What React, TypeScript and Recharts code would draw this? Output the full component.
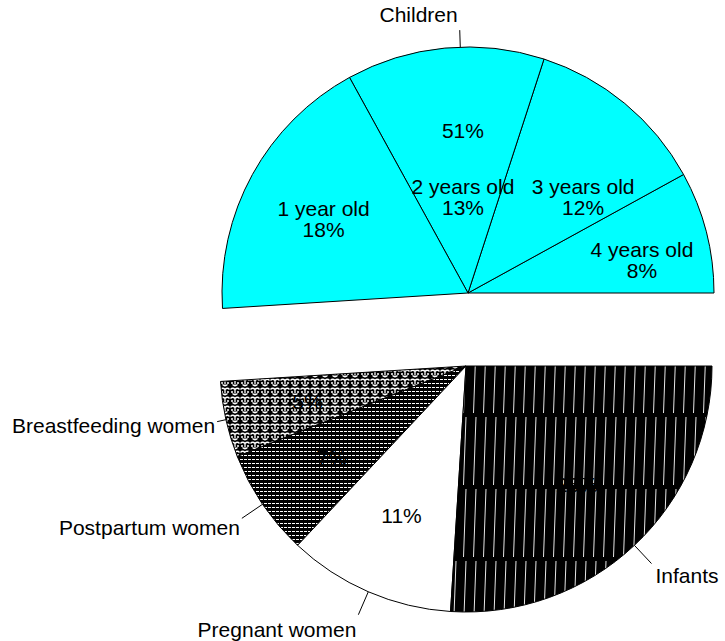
import React from 'react';
import { PieChart, Pie, Cell } from 'recharts';

// shares of participants, percent
const groupNames = ['Children', 'Breastfeeding women', 'Postpartum women', 'Pregnant women', 'Infants'];
const groupShares = [51, 5, 7, 11, 26];
const childAges = ['4 years old', '3 years old', '2 years old', '1 year old'];
const childShares = [8, 12, 13, 18];

const total = groupShares.reduce((a, b) => a + b, 0);
const childrenAngle = (360 * groupShares[0]) / total;

const childGroup = [{ name: groupNames[0], value: groupShares[0] }];
const childData = childAges.map((name, i) => ({ name, value: childShares[i] }));
const otherData = groupNames.slice(1).map((name, i) => ({ name, value: groupShares[i + 1] }));

const W = 725;
const H = 641;
const R = 246;
const FONT = "'Liberation Sans', Arial, Helvetica, sans-serif";
const FS = 21;
const RADIAN = Math.PI / 180;

const fills: Record<string, string> = {
  'Breastfeeding women': 'url(#breastfeeding)',
  'Postpartum women': 'url(#postpartum)',
  'Pregnant women': '#ffffff',
  Infants: 'url(#infants)',
};

// where the inner labels of the age slices sit (fraction of radius, angle nudge)
const innerPos: Record<string, { r: number; da: number }> = {
  '1 year old': { r: 0.66, da: 1.6 },
  '2 years old': { r: 0.39, da: -2.4 },
  '3 years old': { r: 0.61, da: -10.5 },
  '4 years old': { r: 0.72, da: -3.6 },
};
const leaderLen: Record<string, number> = {
  Children: 17,
  'Breastfeeding women': 9,
};

const polar = (cx: number, cy: number, r: number, angle: number) => ({
  x: cx + r * Math.cos(angle * RADIAN),
  y: cy - r * Math.sin(angle * RADIAN),
});

const nameOf = (p: any) => (p.payload && p.payload.name) || p.name;
const valueOf = (p: any) => (p.payload && p.payload.value) ?? p.value;

const ageLabel = (p: any) => {
  const name = nameOf(p);
  const pos = innerPos[name] || { r: 0.66, da: 0 };
  const { x, y } = polar(p.cx, p.cy, p.outerRadius * pos.r, p.midAngle + pos.da);
  return (
    <text x={x} y={y} textAnchor="middle" fontFamily={FONT} fontSize={FS} fill="#000">
      <tspan x={x} dy={-3}>{name}</tspan>
      <tspan x={x} dy={21}>{valueOf(p)}%</tspan>
    </text>
  );
};

const groupLabel = (p: any) => {
  const name = nameOf(p);
  const inner = polar(p.cx, p.cy, p.outerRadius * 0.66, p.midAngle);
  const a = polar(p.cx, p.cy, p.outerRadius, p.midAngle);
  const b = polar(p.cx, p.cy, p.outerRadius + (leaderLen[name] ?? 25), p.midAngle);
  const cos = Math.cos(p.midAngle * RADIAN);
  const sinDown = -Math.sin(p.midAngle * RADIAN);
  const right = cos > 0.05;
  return (
    <g>
      <text x={inner.x} y={inner.y} textAnchor="middle" dominantBaseline="central" fontFamily={FONT} fontSize={FS} fill="#000">
        {valueOf(p)}%
      </text>
      <line x1={a.x} y1={a.y} x2={b.x} y2={b.y} stroke="#000" strokeWidth={1} />
      <text
        x={b.x + (right ? 4 : -2)}
        y={b.y + sinDown * 16}
        textAnchor={right ? 'start' : 'end'}
        dominantBaseline="central"
        fontFamily={FONT}
        fontSize={FS}
        fill="#000"
      >
        {name}
      </text>
    </g>
  );
};

export default function App() {
  return (
    <div style={{ position: 'absolute', left: 0, top: 0, background: '#fff' }}>
      <PieChart width={W} height={H} margin={{ top: 0, right: 0, bottom: 0, left: 0 }}>
        <defs>
          <pattern id="infants" patternUnits="userSpaceOnUse" width="10" height="72" patternTransform="translate(0,55)">
            <rect width="10" height="72" fill="#000" />
            <line x1="6" y1="2" x2="3.5" y2="70" stroke="#fff" strokeWidth="0.9" />
          </pattern>
          <pattern id="breastfeeding" patternUnits="userSpaceOnUse" width="10" height="9">
            <rect width="10" height="9" fill="#000" />
            <path
              d="M0.5 2.5 Q2.5 0 5 2.5 Q7.5 0 9.5 2.5 M2.5 6.5 Q5 9 7.5 6.5 M5 2.5 L5 6.5 M1 5 L3 5 M7 5 L9 5"
              stroke="#fff"
              strokeWidth="1.3"
              fill="none"
            />
          </pattern>
          <pattern id="postpartum" patternUnits="userSpaceOnUse" width="4" height="4">
            <rect width="4" height="4" fill="#000" />
            <rect x="0" y="3" width="3" height="1" fill="#fff" />
          </pattern>
        </defs>
        <Pie
          data={childData}
          dataKey="value"
          nameKey="name"
          cx={468}
          cy={293}
          outerRadius={R}
          startAngle={0}
          endAngle={childrenAngle}
          stroke="#000"
          strokeWidth={1}
          label={ageLabel}
          labelLine={false}
          isAnimationActive={false}
        >
          {childData.map((d) => (
            <Cell key={d.name} fill="#00ffff" />
          ))}
        </Pie>
        <Pie
          data={childGroup}
          dataKey="value"
          nameKey="name"
          cx={468}
          cy={293}
          outerRadius={R}
          startAngle={0}
          endAngle={childrenAngle}
          stroke="none"
          fill="none"
          label={groupLabel}
          labelLine={false}
          isAnimationActive={false}
        >
          {childGroup.map((d) => (
            <Cell key={d.name} fill="none" stroke="none" />
          ))}
        </Pie>
        <Pie
          data={otherData}
          dataKey="value"
          nameKey="name"
          cx={466}
          cy={366}
          outerRadius={R}
          startAngle={childrenAngle}
          endAngle={360}
          stroke="#000"
          strokeWidth={1}
          label={groupLabel}
          labelLine={false}
          isAnimationActive={false}
        >
          {otherData.map((d) => (
            <Cell key={d.name} fill={fills[d.name]} />
          ))}
        </Pie>
      </PieChart>
    </div>
  );
}
